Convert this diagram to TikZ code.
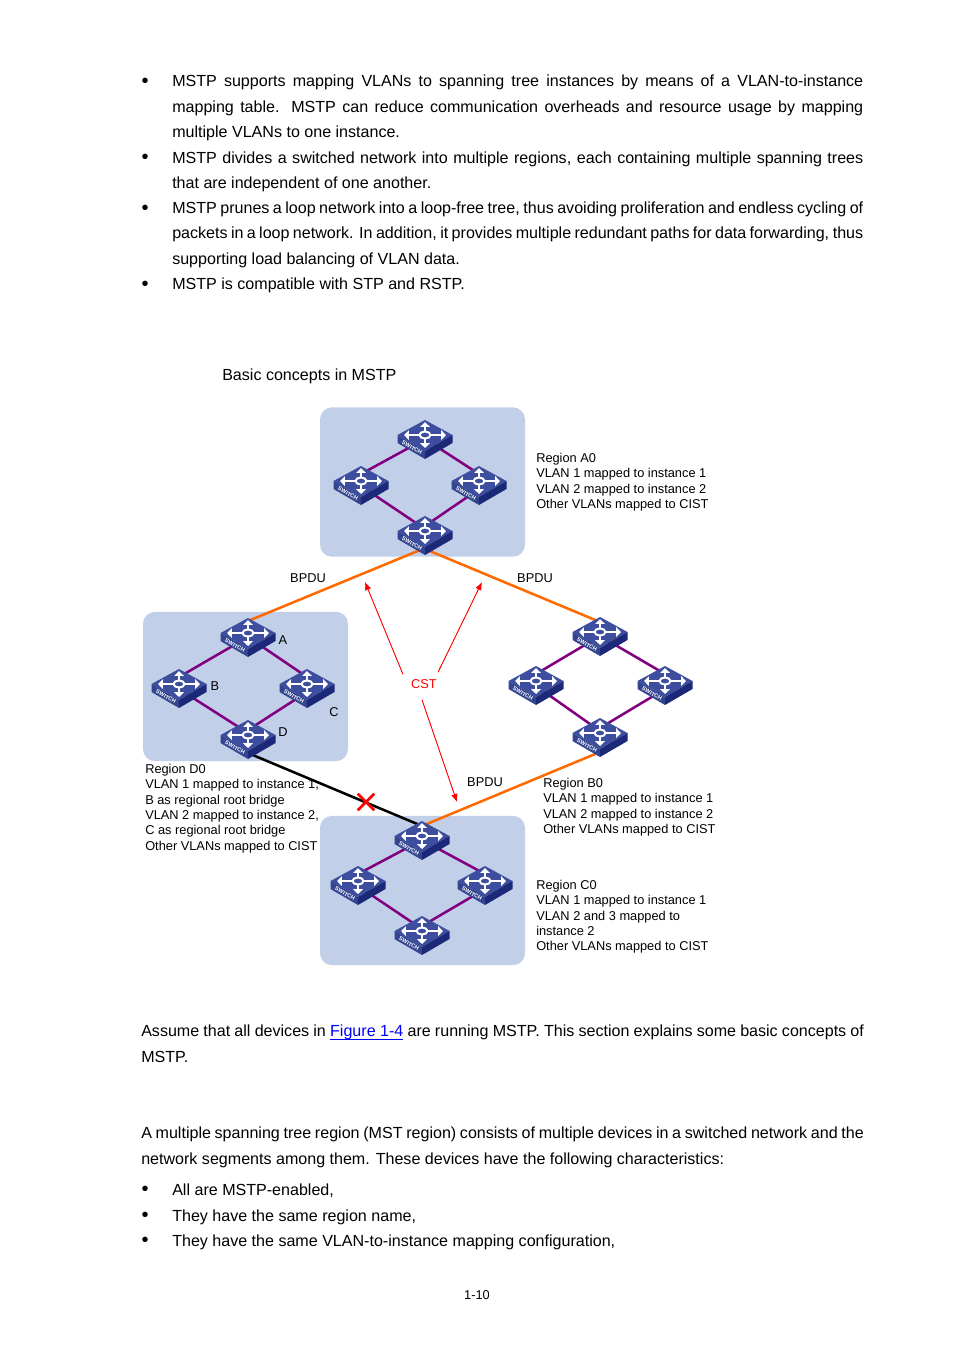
\documentclass[tikz,border=0pt]{standalone}
\usepackage{fontspec}
\setmainfont{Liberation Sans}
\usetikzlibrary{arrows.meta,calc,backgrounds}
\definecolor{regionblue}{HTML}{C1CFE9}
\definecolor{switchtop}{HTML}{3D4E9E}
\definecolor{switchleft}{HTML}{34458F}
\definecolor{switchright}{HTML}{1C2878}
\definecolor{linkblue}{HTML}{0000FF}
\definecolor{trunkorange}{HTML}{FF6A00}
\definecolor{linkpurple}{HTML}{800080}
\tolerance=9999
\hyphenpenalty=10000
\tikzset{
  switchicon/.pic={
    \fill[switchtop] (0,-19) -- (27.5,-4) -- (0,12) -- (-27.5,-4) -- cycle;
    \fill[switchleft] (-27.5,-4) -- (0,12) -- (0,20) -- (-27.5,4) -- cycle;
    \fill[switchright] (27.5,-4) -- (0,12) -- (0,20) -- (27.5,4) -- cycle;
    \draw[white,line width=1.5pt] (0,-4) ellipse (5.5 and 3.5);
    \draw[white,line width=1.6pt,-{Triangle[length=3.6pt,width=7pt]}] (0,-7.5) -- (0,-17);
    \draw[white,line width=1.6pt,-{Triangle[length=3.6pt,width=7pt]}] (0,-0.5) -- (0,9);
    \draw[white,line width=1.6pt,-{Triangle[length=3.6pt,width=7pt]}] (-5.5,-4) -- (-21,-4);
    \draw[white,line width=1.6pt,-{Triangle[length=3.6pt,width=7pt]}] (5.5,-4) -- (21,-4);
    \node[white,rotate=-30,inner sep=0pt,font=\fontsize{4.2}{5}\selectfont\bfseries] (-label) at (-13,8.8) {SWITCH};
  },
  switchnode/.style={rectangle, minimum width=43.5pt, minimum height=31.5pt, inner sep=0pt, path picture={\pic at (path picture bounding box.center) {switchicon};}},
  region/.style={rectangle, rounded corners=9pt, fill=regionblue, minimum width=153.75pt, minimum height=112pt, inner sep=0pt},
  link/.style={draw=linkpurple, line width=1.9pt},
  trunk/.style={draw=trunkorange, line width=1.9pt},
  blocked/.style={draw=black, line width=1.9pt},
  cstarrow/.style={draw=red, line width=0.7pt, -{Latex[length=6pt,width=5pt]}},
  bodytext/.style={anchor=north west, inner sep=0pt, text width=518.25pt, align=justify, font=\fontsize{12.05}{19}\selectfont},
  bullet/.style={anchor=north west, inner sep=0pt, font=\fontsize{12.05}{19}\selectfont},
  bulletmark/.style={inner sep=0pt, font=\fontsize{15}{15}\selectfont},
  note/.style={anchor=north west, inner sep=0pt, align=left, font=\fontsize{9.6}{11.5}\selectfont},
  tag/.style={inner sep=0pt, font=\fontsize{9.6}{12}\selectfont},
}
\begin{document}
\begin{tikzpicture}[x=0.75pt,y=-0.75pt]
  \useasboundingbox (0,0) rectangle (954,1350);
  \node[bulletmark] (b1) at (145,83) {•};
  \node[bodytext] (p1) at (172,75) {MSTP supports mapping VLANs to spanning tree instances by means of a VLAN-to-instance\linebreak mapping table. MSTP can reduce communication overheads and resource usage by mapping\linebreak multiple VLANs to one instance.};
  \node[bulletmark] (b2) at (145,159) {•};
  \node[bodytext] (p2) at (172,151.5) {MSTP divides a switched network into multiple regions, each containing multiple spanning trees\linebreak that are independent of one another.};
  \node[bulletmark] (b3) at (145,210) {•};
  \node[bodytext] (p3) at (172,201.5) {MSTP prunes a loop network into a loop-free tree, thus avoiding proliferation and endless cycling of\linebreak packets in a loop network. In addition, it provides multiple redundant paths for data forwarding, thus\linebreak supporting load balancing of VLAN data.};
  \node[bulletmark] (b4) at (145,286) {•};
  \node[bodytext] (p4) at (172,278) {MSTP is compatible with STP and RSTP.};
  \node[bullet] (title) at (222,368.5) {Basic concepts in MSTP};

  \node[switchnode] (a0t) at (425,439) {};
  \node[switchnode] (a0l) at (361,485) {};
  \node[switchnode] (a0r) at (479,485) {};
  \node[switchnode] (a0b) at (425,535) {};
  \node[switchnode] (d0t) at (248,637) {};
  \node[switchnode] (d0l) at (179,688) {};
  \node[switchnode] (d0r) at (307,688) {};
  \node[switchnode] (d0b) at (248,739) {};
  \node[switchnode] (b0t) at (600,636) {};
  \node[switchnode] (b0l) at (536,685) {};
  \node[switchnode] (b0r) at (665,685) {};
  \node[switchnode] (b0b) at (600,737) {};
  \node[switchnode] (c0t) at (422,840) {};
  \node[switchnode] (c0l) at (358,885) {};
  \node[switchnode] (c0r) at (485,885) {};
  \node[switchnode] (c0b) at (422,935) {};

  \begin{scope}[on background layer]
    \node[region] (rega0) at (422.5,482) {};
    \node[region] (regd0) at (245.5,686.5) {};
    \node[region] (regc0) at (422.5,890.5) {};
    \foreach \reg in {a0,d0,b0,c0}{
      \draw[link] (\reg t.center) -- ($(\reg l.center)+(0,-11)$);
      \draw[link] (\reg t.center) -- ($(\reg r.center)+(0,-11)$);
      \draw[link] ($(\reg l.center)+(0,1)$) -- ($(\reg b.center)+(0,-6)$);
      \draw[link] ($(\reg r.center)+(0,4)$) -- ($(\reg b.center)+(0,-9)$);
    }
    \draw[trunk] ($(a0b.center)+(0,13)$) -- ($(d0t.center)+(0,-16)$);
    \draw[trunk] ($(a0b.center)+(0,14)$) -- ($(b0t.center)+(0,-14)$);
    \draw[trunk] ($(b0b.center)+(0,15)$) -- ($(c0t.center)+(0,-14)$);
    \draw[blocked] ($(d0b.center)+(0,14)$) -- ($(c0t.center)+(0,-14)$);
  \end{scope}

  \node[tag,text=red] (cst) at (424,684) {CST};
  \coordinate (cstl) at (365,582);
  \coordinate (cstr) at (482,582);
  \coordinate (cstb) at (457,802);
  \draw[cstarrow] ($(cst.north west)+(-8,-5)$) -- (cstl);
  \draw[cstarrow] ($(cst.north east)+(1,-7)$) -- (cstr);
  \draw[cstarrow] ($(cst.south)+(-2,11)$) -- (cstb);
  \node[inner sep=0pt, minimum size=12pt] (cross) at (366,802) {};
  \draw[red, line width=1.9pt] (cross.north west) -- (cross.south east);
  \draw[red, line width=1.9pt] (cross.north east) -- (cross.south west);

  \node[tag] (bpdul) at (308,578) {BPDU};
  \node[tag] (bpdur) at (535,578) {BPDU};
  \node[tag] (bpdub) at (485,782) {BPDU};
  \node[tag] (taga) at (283,640) {A};
  \node[tag] (tagb) at (215,686) {B};
  \node[tag] (tagc) at (334,712) {C};
  \node[tag] (tagd) at (283,732) {D};
  \node[note] (notea0) at (536,453) {Region A0\\VLAN 1 mapped to instance 1\\VLAN 2 mapped to instance 2\\Other VLANs mapped to CIST};
  \node[note] (noted0) at (145,764) {Region D0\\VLAN 1 mapped to instance 1,\\B as regional root bridge\\VLAN 2 mapped to instance 2,\\C as regional root bridge\\Other VLANs mapped to CIST};
  \node[note] (noteb0) at (543,778) {Region B0\\VLAN 1 mapped to instance 1\\VLAN 2 mapped to instance 2\\Other VLANs mapped to CIST};
  \node[note] (notec0) at (536,880) {Region C0\\VLAN 1 mapped to instance 1\\VLAN 2 and 3 mapped to\\instance 2\\Other VLANs mapped to CIST};

  \node[bodytext,text width=542pt] (p5) at (141,1025) {Assume that all devices in \textcolor{linkblue}{\underline{\smash{Figure 1-4}}} are running MSTP. This section explains some basic concepts of\linebreak MSTP.};
  \node[bodytext,text width=542pt] (p6) at (141,1127) {A multiple spanning tree region (MST region) consists of multiple devices in a switched network and the\linebreak network segments among them. These devices have the following characteristics:};
  \node[bulletmark] (b5) at (145,1191) {•};
  \node[bullet] (p7) at (172,1184) {All are MSTP-enabled,};
  \node[bulletmark] (b6) at (145,1217) {•};
  \node[bullet] (p8) at (172,1210) {They have the same region name,};
  \node[bulletmark] (b7) at (145,1242) {•};
  \node[bullet] (p9) at (172,1235) {They have the same VLAN-to-instance mapping configuration,};
  \node[tag] (pageno) at (477,1295) {1-10};
\end{tikzpicture}
\end{document}
